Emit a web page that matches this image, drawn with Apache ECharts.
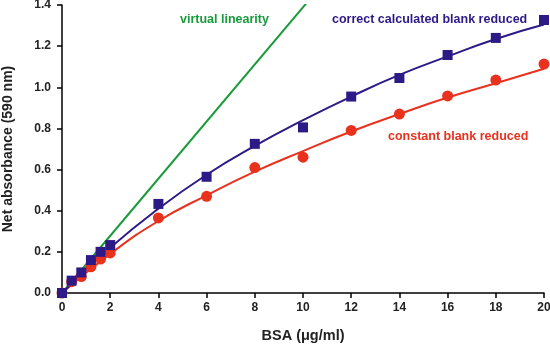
<!DOCTYPE html>
<html>
<head>
<meta charset="utf-8">
<script src="https://cdn.jsdelivr.net/npm/echarts@6/dist/echarts.min.js"></script>
<style>
  html, body { margin: 0; padding: 0; background: #fff; }
  #chart { width: 550px; height: 354px; }
</style>
</head>
<body>
<div id="chart"></div>
<script>
// BSA concentration (µg/ml) of the measured points
const bsa = [0, 0.4, 0.8, 1.2, 1.6, 2, 4, 6, 8, 10, 12, 14, 16, 18, 20];
// measured points, correct calculated blank reduced (squares)
const correctPts = [0, 0.06, 0.1, 0.16, 0.2, 0.233, 0.433, 0.565, 0.725, 0.805, 0.955, 1.045, 1.157, 1.24, 1.327];
// measured points, constant blank reduced (circles)
const constantPts = [0, 0.055, 0.08, 0.127, 0.165, 0.195, 0.365, 0.47, 0.61, 0.66, 0.79, 0.87, 0.958, 1.035, 1.113];

// fitted curves
const fitX = [0, 2, 4, 6, 8, 10, 12, 14, 16, 18, 20];
const correctFit = [0, 0.22, 0.41, 0.575, 0.715, 0.84, 0.955, 1.06, 1.15, 1.235, 1.305];
const constantFit = [0, 0.19, 0.35, 0.475, 0.59, 0.69, 0.785, 0.87, 0.95, 1.02, 1.09];

// virtual linearity line
const linearX = [0, 10.15];
const linearY = [0, 1.41];

const blue = "#2d1a86";
const red = "#e8321e";
const green = "#1b9a3c";
const font = "Liberation Sans, Arial, sans-serif";

const pairs = (xs, ys) => xs.map((x, i) => [x, ys[i]]);

const chart = echarts.init(document.getElementById("chart"));
const option = {
  animation: false,
  grid: { left: 62, right: 6, top: 5, bottom: 61, outerBoundsMode: "none" },
  xAxis: {
    type: "value",
    min: 0,
    max: 20,
    interval: 2,
    name: "BSA (\u03bcg/ml)",
    nameLocation: "middle",
    nameGap: 35,
    nameTextStyle: { color: "#222", fontFamily: font, fontWeight: "bold", fontSize: 14.5 },
    axisLine: { lineStyle: { color: "#000", width: 1.5 } },
    axisTick: { inside: false, length: 5, lineStyle: { color: "#000", width: 1.5 } },
    axisLabel: { color: "#222", fontFamily: font, fontWeight: "bold", fontSize: 12, margin: 9 },
    splitLine: { show: false },
  },
  yAxis: {
    type: "value",
    min: 0,
    max: 1.4,
    interval: 0.2,
    name: "Net absorbance (590 nm)",
    nameLocation: "middle",
    nameGap: 47,
    nameTextStyle: { color: "#222", fontFamily: font, fontWeight: "bold", fontSize: 14 },
    axisLine: { show: true, lineStyle: { color: "#000", width: 1.5 } },
    axisTick: { show: true, length: 5, lineStyle: { color: "#000", width: 1.5 } },
    axisLabel: {
      color: "#222",
      fontFamily: font,
      fontWeight: "bold",
      fontSize: 12,
      margin: 11,
      formatter: (v) => v.toFixed(1),
    },
    splitLine: { show: false },
  },
  graphic: [
    { type: "text", left: 180, top: 13, style: { text: "virtual linearity", fill: green, font: "bold 12.5px " + font } },
    { type: "text", left: 332, top: 13, style: { text: "correct calculated blank reduced", fill: blue, font: "bold 12.5px " + font } },
    { type: "text", left: 388, top: 130, style: { text: "constant blank reduced", fill: red, font: "bold 12.5px " + font } },
  ],
  series: [
    {
      name: "virtual linearity",
      type: "line",
      data: pairs(linearX, linearY),
      showSymbol: false,
      lineStyle: { color: green, width: 2 },
      z: 1,
    },
    {
      name: "constant fit",
      type: "line",
      smooth: true,
      data: pairs(fitX, constantFit),
      showSymbol: false,
      lineStyle: { color: red, width: 2 },
      z: 2,
    },
    {
      name: "correct fit",
      type: "line",
      smooth: true,
      data: pairs(fitX, correctFit),
      showSymbol: false,
      lineStyle: { color: blue, width: 2 },
      z: 2,
    },
    {
      name: "constant blank reduced",
      type: "scatter",
      data: pairs(bsa, constantPts),
      symbol: "circle",
      symbolSize: 11,
      itemStyle: { color: red, opacity: 1 },
      z: 3,
    },
    {
      name: "correct calculated blank reduced",
      type: "scatter",
      data: pairs(bsa, correctPts),
      symbol: "rect",
      symbolSize: 10,
      itemStyle: { color: blue, opacity: 1 },
      z: 4,
    },
  ],
};
chart.setOption(option);
</script>
</body>
</html>
